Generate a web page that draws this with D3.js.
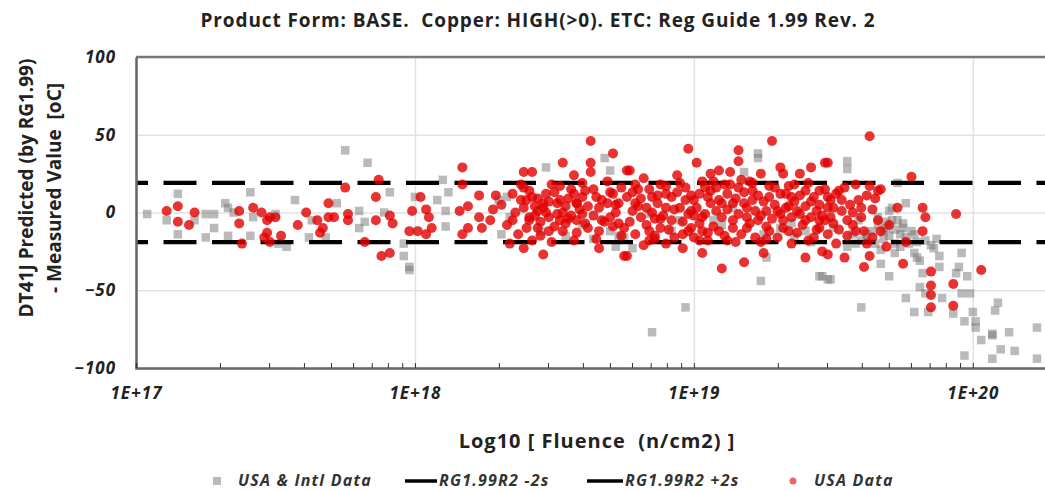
<!DOCTYPE html>
<html><head>
<meta charset="utf-8">
<script src="https://d3js.org/d3.v7.min.js"></script>
<style>
  body { margin: 0; background: #fff; }
  svg text { font-family: "Open Sans", sans-serif; }
  .gridlines line { stroke: #e2e2e2; stroke-width: 1.5; }
  .gridlines .domain { stroke: none; }
  .tick text { font-weight: bold; font-style: italic; font-size: 17px; letter-spacing: 1px; fill: #222; }
</style>
</head>
<body>
<svg id="chart" width="1045" height="491"></svg>
<script>
// data: [log10 fluence, DT41J predicted - measured (oC)]
const intlData = [
  [17.04,-1],[17.15,12],[17.11,-5],[17.15,-14],[17.21,-5],[17.25,-1],[17.28,-1],[17.25,-16],[17.28,-10],
  [17.32,6],[17.33,3],[17.33,-15],[17.35,0],[17.41,13],[17.42,-3],[17.41,-15],[17.50,-1],[17.51,-20],
  [17.54,-22],[17.57,8],[17.63,-5],[17.62,-16],[17.72,6],[17.68,-16],[17.75,40],[17.83,32],[17.80,1],
  [17.82,-6],[17.80,-10],[17.91,13],[17.89,0],[17.96,-20],[17.96,-28],[17.98,-37],[18.00,10],
  [18.10,21],[18.12,13],[18.08,8],[18.11,1],[18.11,-9],[17.98,-35],[18.30,8],[18.31,-14],[18.34,-3],
  [18.33,10],[18.47,29],[18.54,-15],[18.64,-17],[18.68,35],[18.70,27],[18.72,-22],[18.70,-12],[18.75,-16],
  [18.97,-61],[18.85,-77],[19.24,-44],[19.26,-29],[19.23,38],[19.23,35],[19.45,-41],[19.48,-43],
  [18.78,-23],[18.73,-15],[19.18,26],[19.14,3],[19.31,-10],[18.84,-1],[18.95,-5],[19.07,-5],[19.25,-14],
  [19.35,-7],[19.40,-12],
  [19.55,33],[19.55,28],[19.73,19],[19.76,6],[19.70,1],[19.68,-12],[19.71,-5],[19.75,-7],[19.67,-33],
  [19.70,-41],[19.46,-41],[19.49,-43],[19.60,-61],[19.76,-55],[19.79,-26],[19.80,-29],[19.81,-31],
  [19.82,-39],[19.81,-48],[19.83,-52],[19.79,-64],[19.84,-64],[19.87,-17],[19.88,-28],[19.86,-23],
  [19.88,-35],[19.89,-55],[19.93,-65],[19.96,-26],[19.95,-35],[19.94,-39],[19.98,-41],[19.96,-52],
  [19.99,-52],[19.97,-70],[20.00,-64],[20.01,-70],[20.01,-74],[19.97,-92],[20.03,-82],[20.07,-78],
  [20.07,-79],[20.08,-63],[20.09,-58],[20.10,-88],[20.07,-94],[20.13,-77],[20.15,-89],[20.23,-74],
  [20.23,-94],[19.71,3],[19.73,-5],[19.57,-14],[19.69,-10],[19.74,-14],[19.76,-16],[19.59,-5],[19.50,-10],
  [19.62,-14],[19.66,-8],[19.72,-11],[19.64,-12],[19.78,-12],[19.70,-15],
  [19.62,-18],[19.65,-20],[19.68,-17],[19.72,-20],[19.74,-22],[19.77,-20],[19.60,-18],[19.66,-3],
  [19.69,-6],[19.75,-10],[19.79,-14],[19.80,-19],[19.83,-18],[19.85,-21],[19.58,-20],[19.55,-22],
  [19.72,-26],[19.67,-24],[19.36,-16],[19.42,-19],[19.10,-8],[18.92,-12],[18.60,-8],[18.45,-12]
];
const usaData = [
  [17.11,1],[17.15,4],[17.15,-6],[17.19,-8],[17.21,0],[17.37,1],[17.37,-7],[17.38,-20],[17.42,3],
  [17.45,0],[17.47,-5],[17.46,-16],[17.48,-3],[17.50,-3],[17.47,-13],[17.48,-19],[17.52,-15],[17.58,-8],
  [17.61,0],[17.65,-5],[17.66,-13],[17.67,-10],[17.69,6],[17.69,-3],[17.71,-3],[17.75,16],[17.76,-1],
  [17.76,-5],[17.82,-19],[17.87,21],[17.86,10],[17.86,-5],[17.88,-28],[17.91,-26],[17.91,-2],[17.92,-7],
  [17.98,-12],[17.99,1],
  [18.02,10],[18.04,2],[18.05,-3],[18.06,-10],[18.01,-12],[18.04,-14],[18.17,29],[18.17,18],[18.16,1],
  [18.19,4],[18.19,-10],[18.17,-14],[18.23,11],[18.23,-3],[18.24,-10],[18.27,-5],[18.28,2],[18.29,11],
  [18.34,-20],[18.39,26],[18.42,26],[18.39,16],[18.39,3],[18.39,-23],[18.42,10],[18.44,1],[18.44,-10],
  [18.46,-27],[18.41,-3],[18.46,6],[18.48,-3],[18.49,18],[18.49,-19],[18.53,32],[18.52,8],[18.53,0],
  [18.54,-7],[18.57,24],[18.57,12],[18.58,6],[18.60,-1],[18.61,14],[18.58,-5],[18.63,46],[18.63,32],
  [18.63,26],[18.71,38],[18.66,3],[18.66,-23],[18.67,-5],[18.71,12],[18.72,0],[18.76,27],[18.75,-28],
  [18.75,-10],[18.40,8],[18.43,4],[18.46,3],[18.47,12],[18.51,6],[18.54,4],[18.56,-2],[18.58,6],
  [18.41,-5],[18.45,-6],[18.52,-5],[18.62,-10],[18.65,10],[18.69,6],[18.70,-3],[18.73,6],
  [18.77,27],[18.82,22],[18.82,-21],[18.76,-28],[18.79,6],[18.81,-3],[18.76,10],[18.85,10],[18.86,-4],
  [18.86,-17],[18.90,12],[18.90,-20],[18.90,3],[18.94,24],[18.95,3],[18.96,-23],[18.98,41],[18.99,1],
  [18.99,-10],[19.01,32],[19.02,12],[19.03,-26],[19.03,-3],[19.06,25],[19.06,6],[19.09,27],[19.10,-36],
  [19.09,-12],[19.10,6],[19.13,26],[19.14,-5],[19.16,40],[19.16,33],[19.15,-19],[19.18,-32],[19.18,6],
  [19.21,14],[19.24,25],[19.24,-19],[19.25,-26],[19.26,1],[19.28,46],[19.31,29],[19.32,25],[19.34,4],
  [19.34,-12],[19.35,-20],[19.38,25],[19.40,-29],[19.40,-5],[19.42,29],[19.42,7],[19.45,14],[19.47,32],
  [19.46,-25],[19.45,-10],[18.78,1],[18.83,3],[18.87,6],[18.92,10],[18.92,-5],[18.97,8],[19.00,8],
  [19.04,16],[19.05,10],[19.08,1],[19.08,16],[19.12,12],[19.14,6],[19.16,16],[19.19,-3],[19.21,8],
  [19.23,-5],[19.27,10],[19.30,1],[19.32,-5],[19.35,10],[19.38,-1],[19.40,14],[19.44,1],[19.48,3],
  [19.03,-12],[19.27,-12],[18.88,-10],[18.80,15],[18.88,18],[18.96,-14],[19.05,-18],[19.11,18],
  [19.20,20],[19.29,16],[19.36,18],[19.43,-16],[18.84,-12],[19.00,-2],[19.19,-10],[19.33,12],
  [18.31,5],[18.33,-8],[18.35,12],[18.36,0],[18.37,-14],[18.38,8],[18.40,-10],[18.41,14],[18.43,-2],
  [18.44,9],[18.45,-15],[18.47,0],[18.48,7],[18.50,-9],[18.50,13],[18.51,-1],[18.53,-12],[18.55,9],
  [18.55,-4],[18.56,15],[18.58,-13],[18.59,2],[18.60,10],[18.61,-7],[18.62,4],[18.64,-2],[18.64,15],
  [18.66,-12],[18.67,8],[18.68,-6],[18.70,13],[18.71,-9],[18.72,5],[18.74,-15],[18.74,16],
  [18.77,-6],[18.78,13],[18.79,-14],[18.80,4],[18.81,9],[18.83,-8],[18.84,15],[18.85,0],[18.86,-15],
  [18.87,11],[18.89,-2],[18.90,17],[18.91,-11],[18.93,2],[18.93,-16],[18.94,13],[18.96,-6],[18.97,16],
  [18.98,-12],[18.99,11],[19.00,-16],[19.01,3],[19.02,-7],[19.03,20],[19.04,-1],[19.05,-13],[19.06,14],
  [19.07,-9],[19.09,8],[19.10,-3],[19.11,-15],[19.12,2],[19.13,18],[19.14,-10],[19.15,9],[19.16,-1],
  [19.17,-14],[19.18,13],[19.19,3],[19.20,-7],[19.21,19],[19.22,-16],[19.23,11],[19.24,-2],[19.25,7],
  [19.26,-9],[19.27,17],[19.28,-4],[19.29,5],[19.30,-16],[19.31,12],[19.32,-10],[19.33,3],[19.34,17],
  [19.35,-3],[19.36,7],[19.37,-13],[19.38,11],[19.39,-8],[19.40,4],[19.41,19],[19.42,-3],[19.43,10],
  [19.44,-11],[19.45,5],[19.46,-2],[19.47,15],[19.48,-14],[19.49,8],[19.50,-7],
  [19.51,12],[19.52,-11],[19.53,1],[19.54,16],[19.55,-15],[19.56,5],[19.57,-8],[19.58,18],[19.60,-3],
  [19.62,11],[19.62,-20],[19.64,2],[19.66,14],[19.67,-12],[19.69,-22],
  [18.35,-5],[18.38,18],[18.42,-18],[18.48,-12],[18.52,17],[18.57,-18],[18.60,19],[18.65,-17],
  [18.69,20],[18.73,-7],[18.79,18],[18.84,-18],[18.88,-4],[18.95,19],[18.98,-1],[19.02,-18],[19.07,20],
  [19.12,-18],[19.17,21],[19.22,1],[19.26,-17],[19.31,-1],[19.37,1],[19.41,-18],[19.47,-5],
  [19.63,49],[19.48,32],[19.78,23],[19.63,17],[19.67,15],[19.52,14],[19.48,10],[19.50,3],[19.53,8],
  [19.59,8],[19.65,9],[19.73,3],[19.82,3],[19.94,-1],[19.83,-3],[19.82,-12],[19.55,-5],[19.61,-12],
  [19.64,-16],[19.45,-5],[19.51,-20],[19.48,-27],[19.54,-29],[19.61,-35],[19.63,-28],[19.75,-33],
  [19.76,-19],[19.85,-38],[19.85,-47],[19.85,-53],[19.85,-61],[19.93,-46],[19.93,-60],[20.03,-37],
  [19.58,-12],[19.49,-3],[19.57,0],[19.60,3],[19.66,-5],[19.70,-8]
];
const limitFluence = [1e17, 1.86e20];
const limitValues = { minus: -19, plus: 19 };
const yTicks = [-100, -50, 0, 50, 100];
const xDecades = [1e17, 1e18, 1e19, 1e20];
const legendLabels = ["USA & Intl Data", "RG1.99R2 -2s", "RG1.99R2 +2s", "USA Data"];

const svg = d3.select("svg#chart");
const margins = { top: 57, left: 136, bottom: 368, right: 1048 };

const xScale = d3.scaleLog().domain(limitFluence).range([margins.left, margins.right]);
const yScale = d3.scaleLinear().domain([-100, 100]).range([margins.bottom, margins.top]);

// gridlines
svg.append("g").attr("class", "gridlines")
  .attr("transform", "translate(" + margins.left + ",0)")
  .call(d3.axisLeft(yScale).tickValues(yTicks).tickFormat("").tickSize(-(margins.right - margins.left)));
svg.append("g").attr("class", "gridlines")
  .attr("transform", "translate(0," + margins.bottom + ")")
  .call(d3.axisBottom(xScale).tickValues(xDecades).tickFormat("").tickSize(-(margins.bottom - margins.top)));

// frame
svg.append("line").attr("x1", margins.left).attr("x2", margins.right)
  .attr("y1", margins.top).attr("y2", margins.top).attr("stroke", "#777").attr("stroke-width", 2.5);

// gray squares
const sq = 8.5;
svg.append("g").selectAll("rect").data(intlData).join("rect")
  .attr("x", d => xScale(Math.pow(10, d[0])) - sq / 2)
  .attr("y", d => yScale(d[1]) - sq / 2)
  .attr("width", sq).attr("height", sq)
  .attr("fill", "#767676").attr("opacity", 0.5);

// +/- 2 sigma
[limitValues.minus, limitValues.plus].forEach(v => {
  svg.append("line")
    .attr("x1", xScale(limitFluence[0])).attr("x2", xScale(limitFluence[1]))
    .attr("y1", yScale(v)).attr("y2", yScale(v))
    .attr("stroke", "#000").attr("stroke-width", 4.2)
    .attr("stroke-dasharray", "33,15.5").attr("stroke-dashoffset", 21);
});

// red dots
svg.append("g").selectAll("circle").data(usaData).join("circle")
  .attr("cx", d => xScale(Math.pow(10, d[0])))
  .attr("cy", d => yScale(d[1]))
  .attr("r", 5)
  .attr("fill", "#e30000").attr("opacity", 0.8);

// axes
svg.append("g")
  .attr("transform", "translate(" + margins.left + ",0)")
  .call(d3.axisLeft(yScale).tickValues(yTicks).tickSize(0).tickPadding(20))
  .call(g => g.select(".domain").attr("stroke", "#666").attr("stroke-width", 2.5));

svg.append("g")
  .attr("transform", "translate(0," + margins.bottom + ")")
  .call(d3.axisBottom(xScale).tickFormat("").tickSize(-5))
  .call(g => g.select(".domain").attr("stroke", "#666").attr("stroke-width", 2.5))
  .call(g => g.selectAll(".tick line").attr("stroke", "#333"));

svg.append("g")
  .attr("transform", "translate(0," + margins.bottom + ")")
  .call(d3.axisBottom(xScale).tickValues(xDecades).tickSize(0).tickPadding(19)
    .tickFormat(d => "1E+" + Math.round(Math.log10(d))))
  .call(g => g.select(".domain").remove());

// titles
svg.append("text").attr("x", 538).attr("y", 27).attr("text-anchor", "middle")
  .attr("font-weight", "bold").attr("font-size", 19).attr("letter-spacing", 0.9).attr("fill", "#222")
  .attr("xml:space", "preserve")
  .text("Product Form: BASE.  Copper: HIGH(>0). ETC: Reg Guide 1.99 Rev. 2");

svg.append("text").attr("x", 597).attr("y", 448).attr("text-anchor", "middle")
  .attr("font-weight", "bold").attr("font-size", 20).attr("letter-spacing", 1).attr("fill", "#222")
  .attr("xml:space", "preserve")
  .text("Log10 [ Fluence  (n/cm2) ]");

const yTitle = svg.append("text").attr("transform", "translate(0,188) rotate(-90)")
  .attr("text-anchor", "middle").attr("font-weight", "bold").attr("font-size", 19).attr("fill", "#222")
  .attr("xml:space", "preserve");
yTitle.append("tspan").attr("x", 0).attr("y", 33).text("DT41J Predicted (by RG1.99)");
yTitle.append("tspan").attr("x", 0).attr("y", 61).text("- Measured Value  [oC]");

// legend
const legend = svg.append("g").attr("font-weight", "bold").attr("font-style", "italic")
  .attr("font-size", 16).attr("letter-spacing", 1.2).attr("fill", "#333");
legend.append("rect").attr("x", 213).attr("y", 477).attr("width", 8).attr("height", 8)
  .attr("fill", "#767676").attr("opacity", 0.5);
legend.append("text").attr("x", 238).attr("y", 486).text(legendLabels[0]);
legend.append("line").attr("x1", 405).attr("x2", 437).attr("y1", 481).attr("y2", 481)
  .attr("stroke", "#000").attr("stroke-width", 3.5);
legend.append("text").attr("x", 439).attr("y", 486).text(legendLabels[1]);
legend.append("line").attr("x1", 587).attr("x2", 623).attr("y1", 481).attr("y2", 481)
  .attr("stroke", "#000").attr("stroke-width", 3.5);
legend.append("text").attr("x", 625).attr("y", 486).text(legendLabels[2]);
legend.append("circle").attr("cx", 793).attr("cy", 481).attr("r", 3.5)
  .attr("fill", "#e30000").attr("opacity", 0.6);
legend.append("text").attr("x", 814).attr("y", 486).text(legendLabels[3]);
</script>
</body></html>
